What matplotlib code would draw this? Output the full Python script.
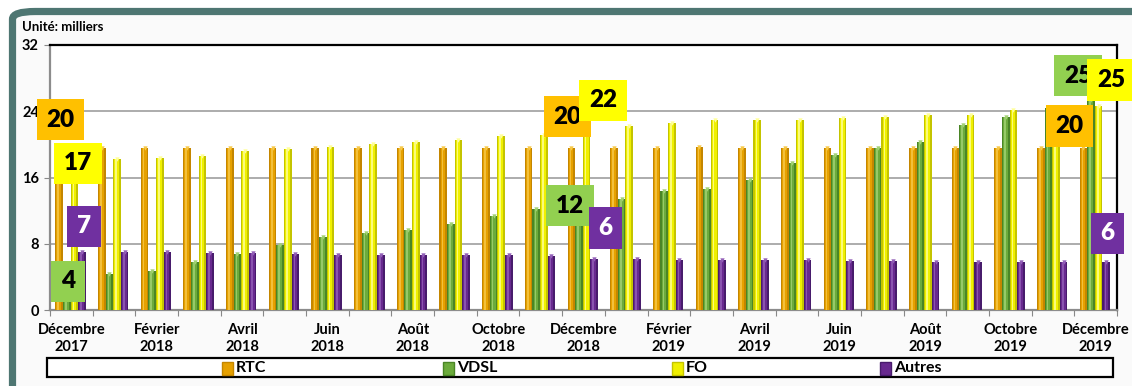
import matplotlib.pyplot as plt
from matplotlib.patches import Rectangle, FancyBboxPatch
import numpy as np

plt.rcParams['font.family'] = ['Lato', 'DejaVu Sans']
plt.rcParams['font.weight'] = 'bold'

# --- données (unité : milliers) ---
mois = ["Décembre\n2017", "Janvier\n2018", "Février\n2018", "Mars\n2018", "Avril\n2018",
        "Mai\n2018", "Juin\n2018", "Juillet\n2018", "Août\n2018", "Septembre\n2018",
        "Octobre\n2018", "Novembre\n2018", "Décembre\n2018", "Janvier\n2019", "Février\n2019",
        "Mars\n2019", "Avril\n2019", "Mai\n2019", "Juin\n2019", "Juillet\n2019",
        "Août\n2019", "Septembre\n2019", "Octobre\n2019", "Novembre\n2019", "Décembre\n2019"]
rtc = [19.5, 19.6, 19.6, 19.6, 19.6, 19.6, 19.6, 19.6, 19.6, 19.6, 19.6, 19.6, 19.6,
       19.6, 19.6, 19.7, 19.6, 19.6, 19.6, 19.6, 19.6, 19.6, 19.6, 19.6, 19.6]
vdsl = [4.0, 4.3, 4.75, 5.8, 6.8, 7.85, 8.8, 9.3, 9.7, 10.4, 11.35, 12.2, 12.4,
        13.4, 14.4, 14.6, 15.7, 17.7, 18.7, 19.6, 20.3, 22.3, 23.35, 24.4, 25.4]
fo = [17.4, 18.2, 18.4, 18.6, 19.2, 19.5, 19.7, 20.05, 20.25, 20.5, 21.0, 21.1, 21.9,
      22.2, 22.6, 22.9, 22.9, 23.0, 23.2, 23.35, 23.5, 23.6, 24.1, 24.3, 24.6]
autres = [7.05, 6.97, 6.97, 6.85, 6.85, 6.76, 6.68, 6.6, 6.6, 6.68, 6.6, 6.52, 6.16,
          6.1, 6.08, 6.08, 6.08, 6.04, 5.9, 5.88, 5.84, 5.8, 5.76, 5.8, 5.8]

series = [
    ("RTC", rtc, ('#C48600', '#E6A100', '#F7C94A'), '#FFC000', 'black'),
    ("VDSL", vdsl, ('#4A8526', '#6CAB3C', '#A3D274'), '#92D050', 'black'),
    ("FO", fo, ('#C4C400', '#F0F000', '#FFFF9A'), '#FFFF00', 'black'),
    ("Autres", autres, ('#481C6C', '#68298F', '#9360B8'), '#7030A0', 'white'),
]

# étiquettes des valeurs : (série, mois, position x dans le groupe, hauteur y)
etiquettes = [
    (0, 0, 0.25, 23.0), (2, 0, 0.66, 17.7), (3, 0, 0.80, 10.1), (1, 0, 0.42, 3.45),
    (0, 12, 0.13, 23.35), (2, 12, 0.96, 25.3), (1, 12, 0.19, 12.6), (3, 12, 1.02, 9.9),
    (1, 24, 0.09, 28.3), (2, 24, 0.86, 27.8), (0, 24, -0.11, 22.2), (3, 24, 0.78, 9.25),
]

n = len(mois)
x = np.arange(n)
w = 0.178
offsets = [0.126 + w * (k + 0.5) for k in range(4)]

fig = plt.figure(figsize=(11.32, 3.86), dpi=100)
fig.patch.set_facecolor('white')

# cadre extérieur
cadre = FancyBboxPatch((12.5 / 1132, -0.2), 1.2, 1.2 - 11.5 / 386,
                       boxstyle="round,pad=0,rounding_size=0.02",
                       transform=fig.transFigure, facecolor='#FAFAFA',
                       edgecolor='#4E7672', linewidth=5.2, zorder=0)
fig.add_artist(cadre)

ax = fig.add_axes([50 / 1132, 76 / 386, 1067 / 1132, 265 / 386])
ax.set_facecolor('white')

for k, (nom, vals, (c_dark, c_mid, c_light), _, _) in enumerate(series):
    pos = x + offsets[k]
    ax.bar(pos, vals, w, color=c_dark, zorder=3)
    ax.bar(pos - w * 0.05, vals, w * 0.62, color=c_mid, zorder=4)
    ax.bar(pos - w * 0.12, vals, w * 0.22, color=c_light, zorder=5, alpha=0.8)
    ax.scatter(pos, vals, marker='v', s=10, color=c_light, zorder=6, linewidths=0)

for k, m, gx, yy in etiquettes:
    nom, vals, _, box_col, txt_col = series[k]
    ax.text(m + gx, yy, f"{vals[m]:.0f}", ha='center', va='center',
            fontsize=17.5, fontweight='heavy', color=txt_col, zorder=10, clip_on=False,
            bbox=dict(boxstyle='square,pad=0.4', facecolor=box_col, edgecolor='none'))

ax.set_xlim(0, n)
ax.set_ylim(0, 32)
ax.set_yticks([0, 8, 16, 24, 32])
ax.set_xticks(np.arange(n + 1))
ax.set_xticklabels([])
ax.set_xticks(x[::2] + 0.5, [mois[i] for i in range(0, n, 2)], minor=True)
ax.tick_params(axis='x', which='major', length=4, color='#888888', direction='out')
ax.tick_params(axis='x', which='minor', length=0, pad=9, labelsize=10.5)
ax.tick_params(axis='y', length=4, color='#888888', labelsize=10.5, pad=4)
for lab in ax.get_xticklabels(minor=True) + ax.get_yticklabels():
    lab.set_fontweight('bold')
    lab.set_linespacing(1.3)

ax.grid(axis='y', color='#A6A6A6', linewidth=1.3, zorder=1)
ax.set_axisbelow(True)
for s in ['top', 'right']:
    ax.spines[s].set_color('black')
    ax.spines[s].set_linewidth(1.6)
for s in ['left', 'bottom']:
    ax.spines[s].set_color('#8C8C8C')
    ax.spines[s].set_linewidth(1.6)

fig.text(22 / 1132, 1 - 27 / 386, "Unité: milliers", fontsize=9.5, fontweight='bold',
         va='center', ha='left')

# légende
fig.add_artist(Rectangle((47 / 1132, 9 / 386), 1066 / 1132, 19 / 386,
                         transform=fig.transFigure, facecolor='white',
                         edgecolor='black', linewidth=1.6))
leg_x = [222, 443, 672, 880]
for (nom, _, (c_dark, c_mid, c_light), _, _), lx in zip(series, leg_x):
    fig.add_artist(Rectangle((lx / 1132, 11 / 386), 11 / 1132, 13 / 386,
                             transform=fig.transFigure, facecolor=c_mid,
                             edgecolor=c_dark, linewidth=1))
    fig.text((lx + 14) / 1132, 17.5 / 386, nom, fontsize=11.5, fontweight='bold',
             va='center', ha='left')

fig.savefig("out.png", dpi=100)
